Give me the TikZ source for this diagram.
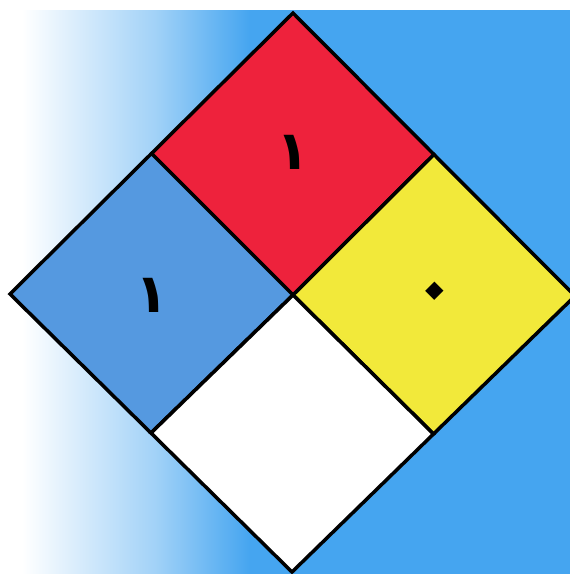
\documentclass[tikz,border=0pt]{standalone}
\usepackage{fontspec}
\usepackage{tikz}
\usetikzlibrary{positioning}
\usetikzlibrary{calc}
\newfontfamily\arabicfont[Script=Arabic]{DejaVu Sans}
\TeXXeTstate=1

\definecolor{skyblue}{HTML}{45A5F0}
\definecolor{firered}{HTML}{EE223C}
\definecolor{healthblue}{HTML}{5599E0}
\definecolor{reactyellow}{HTML}{F2E93A}

\tikzset{
  quad/.style={draw=black, line width=3pt, line join=miter},
  digit/.style={font=\arabicfont\bfseries\fontsize{46}{46}\selectfont, text=black, inner sep=0pt}
}

\begin{document}
\begin{tikzpicture}[x=0.03cm, y=-0.03cm]
            \useasboundingbox (0,0) rectangle (570,574);
            % background
            \fill[skyblue] (0,10) rectangle (570,574);
            \fill[white] (0,10) rectangle (22,574);
            \shade[left color=white, right color=skyblue!50] (22,10) rectangle (155,574);
            \shade[left color=skyblue!50, right color=skyblue] (155,10) rectangle (250,574);
            % corners of the diamond
            \coordinate (c) at (293,295);
            \coordinate (top) at (293,13);
            \coordinate (lft) at (10,294);
            \coordinate (rgt) at (575,296);
            \coordinate (bot) at (292,572);
            \coordinate (tl) at ($(top)!0.5!(lft)$);
            \coordinate (tr) at ($(top)!0.5!(rgt)$);
            \coordinate (bl) at ($(bot)!0.5!(lft)$);
            \coordinate (br) at ($(bot)!0.5!(rgt)$);
            % the four squares
            \filldraw[quad, fill=firered] (top) -- (tr) -- (c) -- (tl) -- cycle;
            \filldraw[quad, fill=healthblue] (tl) -- (c) -- (bl) -- (lft) -- cycle;
            \filldraw[quad, fill=reactyellow] (tr) -- (rgt) -- (br) -- (c) -- cycle;
            \filldraw[quad, fill=white] (c) -- (br) -- (bot) -- (bl) -- cycle;
            % ratings
            \node[digit] (fire) at (293,152) {\beginR ١\endR};
            \node[digit] (health) at (152,295) {\beginR ١\endR};
            \node[digit, scale=1.4, rotate=45] (react) at (440,296) {\beginR ٠\endR};
        \end{tikzpicture}
\end{document}
